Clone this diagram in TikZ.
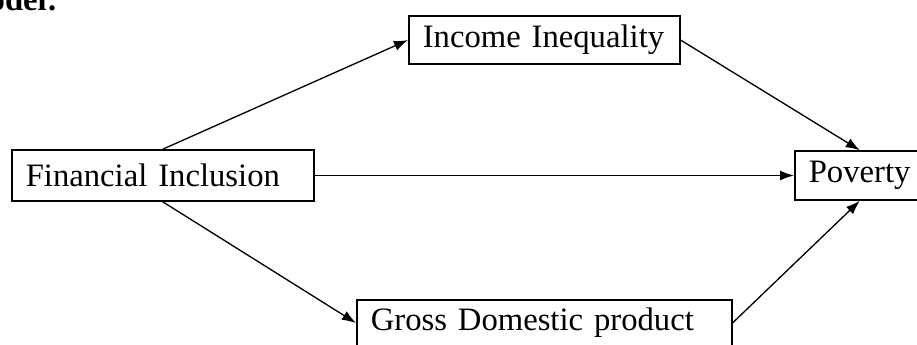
\documentclass[tikz,border=0pt]{standalone}
\usepackage{fontspec}
\setmainfont{Liberation Serif}
\usetikzlibrary{arrows.meta}

\tikzset{
  box/.style={draw, line width=0.9pt, anchor=west, align=left, inner xsep=0.28cm, minimum height=#1},
  link/.style={-{Latex[length=2.8mm,width=2mm]}, line width=0.75pt}
}

\begin{document}
\begin{tikzpicture}[x=0.02cm, y=-0.02cm, font=\fontsize{18.6}{22}\selectfont]
        \useasboundingbox (0,0) rectangle (917,345);

        % Titolo (tagliato)
        \node[font=\fontsize{18.6}{22}\selectfont\bfseries, anchor=base east, inner sep=0] (title) at (58,10) {Model:};

        % Riquadri
        \node[box=1.02cm, text width=5.48cm] (fi) at (11,175.5) {Financial Inclusion};
        \node[box=0.96cm, text width=4.86cm] (ii) at (408,40) {Income Inequality};
        \node[box=0.98cm, text width=2.04cm] (pov) at (794,175.5) {Poverty};
        \node[box=0.92cm, text width=6.94cm] (gdp) at (356,323) {Gross Domestic product};

        % Frecce
        \draw[link] (fi.north) -- (ii.west);
        \draw[link] (ii.east) -- (pov.north);
        \draw[link] (fi.east) -- (pov.west);
        \draw[link] (fi.south) -- (gdp.west);
        \draw[link] (gdp.east) -- (pov.south);
    \end{tikzpicture}
\end{document}
